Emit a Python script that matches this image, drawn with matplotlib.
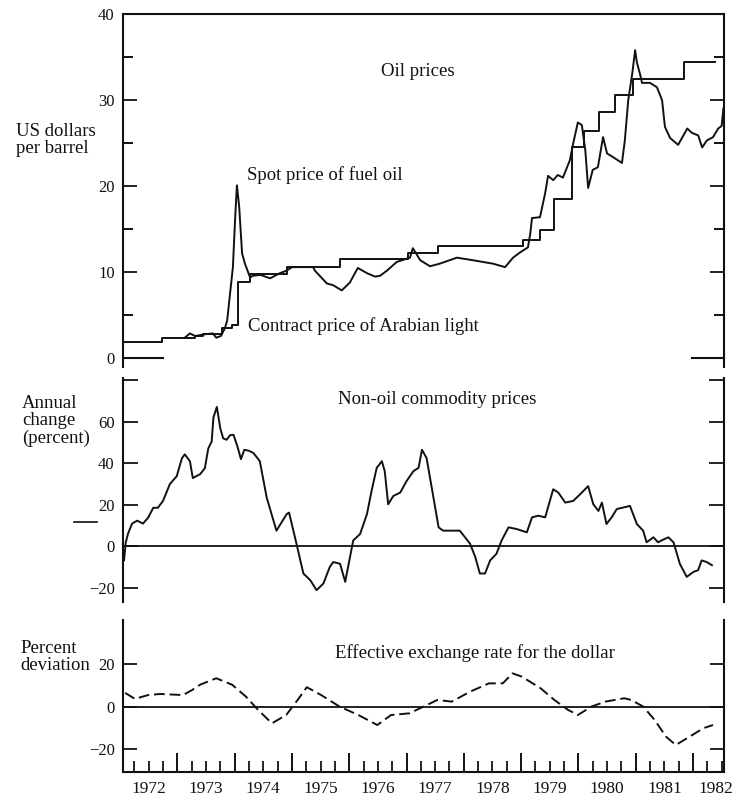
import matplotlib
matplotlib.use("Agg")
import matplotlib.pyplot as plt
from matplotlib.lines import Line2D
from matplotlib.ticker import MultipleLocator

plt.rcParams['font.family'] = ['Liberation Serif', 'DejaVu Serif']
plt.rcParams['axes.unicode_minus'] = True

INK = '#111111'

# ---------------- data (decimal years) ----------------
contract_t = [1972.07, 1972.73, 1973.31, 1973.45, 1973.78, 1973.95, 1974.06, 1974.27,
              1974.91, 1975.84, 1977.03, 1977.55, 1979.03, 1979.33, 1979.57, 1979.89,
              1980.10, 1980.36, 1980.64, 1980.95, 1981.84, 1982.38]
contract_v = [1.86, 2.33, 2.56, 2.85, 3.5, 3.84, 8.84, 9.75,
              10.6, 11.6, 12.2, 13.0, 13.8, 14.9, 18.5, 24.5,
              26.4, 28.6, 30.6, 32.4, 34.4, 34.4]

spot_t = [1973.13, 1973.22, 1973.31, 1973.48, 1973.62, 1973.68, 1973.76, 1973.83, 1973.87,
          1973.97, 1974.01, 1974.04, 1974.08, 1974.13, 1974.18, 1974.27, 1974.32, 1974.45,
          1974.62, 1974.79, 1974.91, 1975.00, 1975.37, 1975.40, 1975.61, 1975.72, 1975.87,
          1976.01, 1976.15, 1976.31, 1976.45, 1976.54, 1976.66, 1976.83, 1977.06, 1977.11,
          1977.24, 1977.41, 1977.58, 1977.88, 1978.16, 1978.51, 1978.72, 1978.86, 1978.98,
          1979.12, 1979.16, 1979.19, 1979.33, 1979.42, 1979.47, 1979.56, 1979.64, 1979.73,
          1979.85, 1979.91, 1979.99, 1980.06, 1980.12, 1980.17, 1980.25, 1980.34, 1980.43,
          1980.50, 1980.60, 1980.76, 1980.81, 1980.87, 1980.94, 1980.99, 1981.02, 1981.08,
          1981.11, 1981.25, 1981.37, 1981.46, 1981.51, 1981.60, 1981.74, 1981.90, 1981.98,
          1982.09, 1982.16, 1982.24, 1982.35, 1982.44, 1982.50, 1982.53]
spot_v = [2.4, 2.9, 2.6, 2.8, 2.9, 2.4, 2.6, 3.5, 4.4,
          10.6, 16.4, 20.1, 17.6, 12.2, 11.0, 9.4, 9.6, 9.7,
          9.3, 9.9, 10.2, 10.6, 10.6, 10.2, 8.7, 8.5, 7.9,
          8.8, 10.5, 9.9, 9.5, 9.6, 10.2, 11.2, 11.7, 12.8,
          11.4, 10.7, 11.0, 11.7, 11.4, 11.0, 10.6, 11.7, 12.3,
          12.9, 14.5, 16.3, 16.4, 19.2, 21.2, 20.7, 21.3, 21.0,
          23.0, 25.0, 27.4, 27.1, 24.2, 19.8, 21.9, 22.2, 25.7,
          23.8, 23.4, 22.7, 25.3, 30.0, 33.1, 35.8, 34.4, 32.9,
          32.0, 32.0, 31.5, 30.0, 26.9, 25.6, 24.8, 26.7, 26.2,
          25.9, 24.5, 25.3, 25.7, 26.7, 27.0, 29.0]

commod_t = [1972.07, 1972.10, 1972.14, 1972.21, 1972.30, 1972.40, 1972.49, 1972.58, 1972.66,
            1972.75, 1972.87, 1972.99, 1973.08, 1973.13, 1973.22, 1973.27, 1973.40, 1973.48,
            1973.54, 1973.60, 1973.63, 1973.69, 1973.75, 1973.80, 1973.86, 1973.92, 1973.98,
            1974.05, 1974.11, 1974.17, 1974.25, 1974.33, 1974.44, 1974.56, 1974.73, 1974.91,
            1974.95, 1975.08, 1975.20, 1975.32, 1975.43, 1975.55, 1975.66, 1975.72, 1975.84,
            1975.93, 1976.07, 1976.19, 1976.31, 1976.39, 1976.48, 1976.57, 1976.62, 1976.68,
            1976.77, 1976.89, 1977.00, 1977.12, 1977.21, 1977.27, 1977.35, 1977.44, 1977.56,
            1977.64, 1977.93, 1978.11, 1978.20, 1978.28, 1978.37, 1978.46, 1978.57, 1978.66,
            1978.78, 1978.92, 1979.10, 1979.19, 1979.30, 1979.42, 1979.56, 1979.65, 1979.77,
            1979.91, 1980.03, 1980.17, 1980.26, 1980.35, 1980.41, 1980.49, 1980.58, 1980.67,
            1980.78, 1980.90, 1981.02, 1981.13, 1981.19, 1981.31, 1981.39, 1981.45, 1981.57,
            1981.66, 1981.77, 1981.89, 1982.01, 1982.09, 1982.15, 1982.24, 1982.33]
commod_v = [-6.7, 1.9, 6.2, 11.0, 12.4, 11.0, 13.8, 18.6, 18.6,
            21.9, 30.0, 33.8, 42.4, 44.3, 41.0, 32.9, 34.8, 37.6,
            47.1, 50.5, 62.0, 67.1, 56.8, 52.0, 51.3, 53.5, 53.7,
            48.0, 42.0, 46.5, 46.0, 44.9, 41.0, 23.5, 7.6, 15.6,
            16.3, 1.3, -13.0, -16.2, -21.0, -17.8, -9.9, -7.5, -8.3,
            -17.0, 2.9, 6.0, 15.6, 26.7, 37.8, 41.0, 36.2, 20.3,
            24.3, 25.9, 31.4, 36.2, 37.8, 46.5, 42.5, 28.3, 9.2,
            7.6, 7.6, 1.3, -5.1, -13.0, -13.0, -6.7, -3.5, 2.9,
            9.2, 8.4, 6.8, 14.0, 14.8, 14.0, 27.5, 25.9, 21.1,
            21.9, 25.1, 29.0, 20.3, 17.1, 21.1, 10.8, 14.0, 18.0,
            18.7, 19.5, 10.8, 7.6, 2.0, 4.4, 2.0, 2.9, 4.4,
            2.0, -8.3, -14.6, -12.2, -11.4, -6.7, -7.5, -9.0]

fx_t = [1972.09, 1972.26, 1972.49, 1972.70, 1973.10, 1973.26, 1973.40, 1973.68, 1973.96,
        1974.20, 1974.41, 1974.65, 1974.90, 1975.10, 1975.26, 1975.51, 1975.83, 1976.16,
        1976.49, 1976.73, 1977.05, 1977.30, 1977.54, 1977.79, 1978.11, 1978.44, 1978.68,
        1978.85, 1979.01, 1979.34, 1979.58, 1979.82, 1979.99, 1980.23, 1980.47, 1980.80,
        1980.92, 1981.13, 1981.33, 1981.53, 1981.70, 1981.94, 1982.18, 1982.35]
fx_v = [6.6, 3.8, 5.6, 6.1, 5.6, 8.0, 10.5, 13.5, 10.4,
        4.8, -1.4, -7.7, -3.8, 3.3, 9.3, 5.6, 0.2, -3.8,
        -8.5, -3.8, -3.0, 0.2, 3.3, 2.5, 7.2, 11.1, 11.1,
        15.8, 14.3, 8.8, 3.3, -1.4, -3.8, 0.2, 2.5, 4.1,
        3.3, 0.2, -6.1, -14.0, -17.9, -14.0, -10.0, -8.5]

year_labels = ['1972', '1973', '1974', '1975', '1976', '1977',
               '1978', '1979', '1980', '1981', '1982']
year_label_pos = [1972.5, 1973.5, 1974.5, 1975.5, 1976.5, 1977.5,
                  1978.5, 1979.5, 1980.5, 1981.5, 1982.4]

# ---------------- figure ----------------
W_PX, H_PX = 733, 796
fig = plt.figure(figsize=(W_PX / 100, H_PX / 100), dpi=100)
fig.patch.set_facecolor('white')

L = 123 / W_PX
R = 724 / W_PX
AW = R - L
XLIM = (1972.052, 1982.541)


def frac_y(py):
    return 1 - py / H_PX


def make_ax(top_px, bot_px):
    ax = fig.add_axes([L, frac_y(bot_px), AW, (bot_px - top_px) / H_PX])
    ax.set_xlim(*XLIM)
    for s in ax.spines.values():
        s.set_color(INK)
        s.set_linewidth(1.5)
    return ax


LW = 1.4
TXT = 13.5
TICKFS = 12

# ---- top panel: oil prices ----
ax1 = make_ax(14, 367)
ax1.set_ylim(-1, 40)
ax1.spines['bottom'].set_visible(False)
ax1.step(contract_t, contract_v, where='post', color=INK, lw=LW)
ax1.plot(spot_t, spot_v, color=INK, lw=LW)
ax1.set_yticks([0, 10, 20, 30, 40])
ax1.yaxis.set_minor_locator(MultipleLocator(5))
ax1.tick_params(axis='y', which='major', direction='in', left=True, right=True,
                length=10, width=1.3, labelsize=TICKFS, pad=6, colors=INK)
ax1.tick_params(axis='y', which='minor', direction='in', left=True, right=True,
                length=7, width=1.3)
ax1.tick_params(axis='x', which='both', bottom=False, labelbottom=False)
tr = ax1.get_yaxis_transform()
ax1.plot([0, 40 / 601], [0, 0], transform=tr, color=INK, lw=1.5, clip_on=False)
ax1.plot([1 - 32 / 601, 1], [0, 0], transform=tr, color=INK, lw=1.5, clip_on=False)
ax1.text(1976.55, 33.3, 'Oil prices', fontsize=TXT, ha='left', va='center', color=INK)
ax1.text(1974.22, 21.3, 'Spot price of fuel oil', fontsize=TXT, ha='left', va='center', color=INK)
ax1.text(1974.23, 3.8, 'Contract price of Arabian light', fontsize=TXT, ha='left',
         va='center', color=INK)
fig.text(16 / W_PX, frac_y(140), 'US dollars\nper barrel', fontsize=TXT, ha='left',
         va='center', linespacing=1.05, color=INK)

# ---- middle panel: non-oil commodity prices ----
ax2 = make_ax(378, 602)
ax2.set_ylim(-26.7, 81)
ax2.spines['top'].set_visible(False)
ax2.spines['bottom'].set_visible(False)
ax2.axhline(0, color=INK, lw=1.3)
ax2.plot(commod_t, commod_v, color=INK, lw=LW)
ax2.set_yticks([-20, 0, 20, 40, 60, 80])
ax2.set_yticklabels(['\u221220', '0', '20', '40', '60', ''])
ax2.tick_params(axis='y', direction='in', left=True, right=True, length=11, width=1.3,
                labelsize=TICKFS, pad=6, colors=INK)
ax2.tick_params(axis='x', which='both', bottom=False, labelbottom=False)
ax2.text(1975.80, 70.5, 'Non-oil commodity prices', fontsize=TXT, ha='left',
         va='center', color=INK)
fig.text(22 / W_PX, frac_y(421), 'Annual\nchange\n(percent)', fontsize=TXT, ha='left',
         va='center', linespacing=1.0, color=INK)
fig.add_artist(Line2D([74 / W_PX, 97 / W_PX], [frac_y(522), frac_y(522)], color=INK, lw=1.2))

# ---- bottom panel: exchange rate ----
ax3 = make_ax(620, 772)
ax3.set_ylim(-30.6, 40.9)
ax3.spines['top'].set_visible(False)
ax3.axhline(0, color=INK, lw=1.3)
ax3.plot(fx_t, fx_v, color=INK, lw=LW, dashes=(5.5, 2.5))
ax3.set_yticks([-20, 0, 20])
ax3.set_yticklabels(['\u221220', '0', '20'])
ax3.tick_params(axis='y', direction='in', left=True, right=True, length=10, width=1.3,
                labelsize=TICKFS, pad=6, colors=INK)
ax3.set_xticks(list(range(1973, 1983)))
ax3.xaxis.set_minor_locator(MultipleLocator(0.25))
ax3.tick_params(axis='x', which='major', direction='in', length=14, width=1.3,
                labelbottom=False)
ax3.tick_params(axis='x', which='minor', direction='in', length=8, width=1.2)
xtr = ax3.get_xaxis_transform()
for lab, pos in zip(year_labels, year_label_pos):
    ax3.text(pos, -0.06, lab, transform=xtr, fontsize=12.5, ha='center', va='top',
             color=INK, clip_on=False)
ax3.text(1975.75, 25.4, 'Effective exchange rate for the dollar', fontsize=TXT,
         ha='left', va='center', color=INK)
fig.text(20 / W_PX, frac_y(657), 'Percent\ndeviation', fontsize=TXT, ha='left',
         va='center', linespacing=1.0, color=INK)

fig.savefig('out.png', dpi=100, facecolor='white')
